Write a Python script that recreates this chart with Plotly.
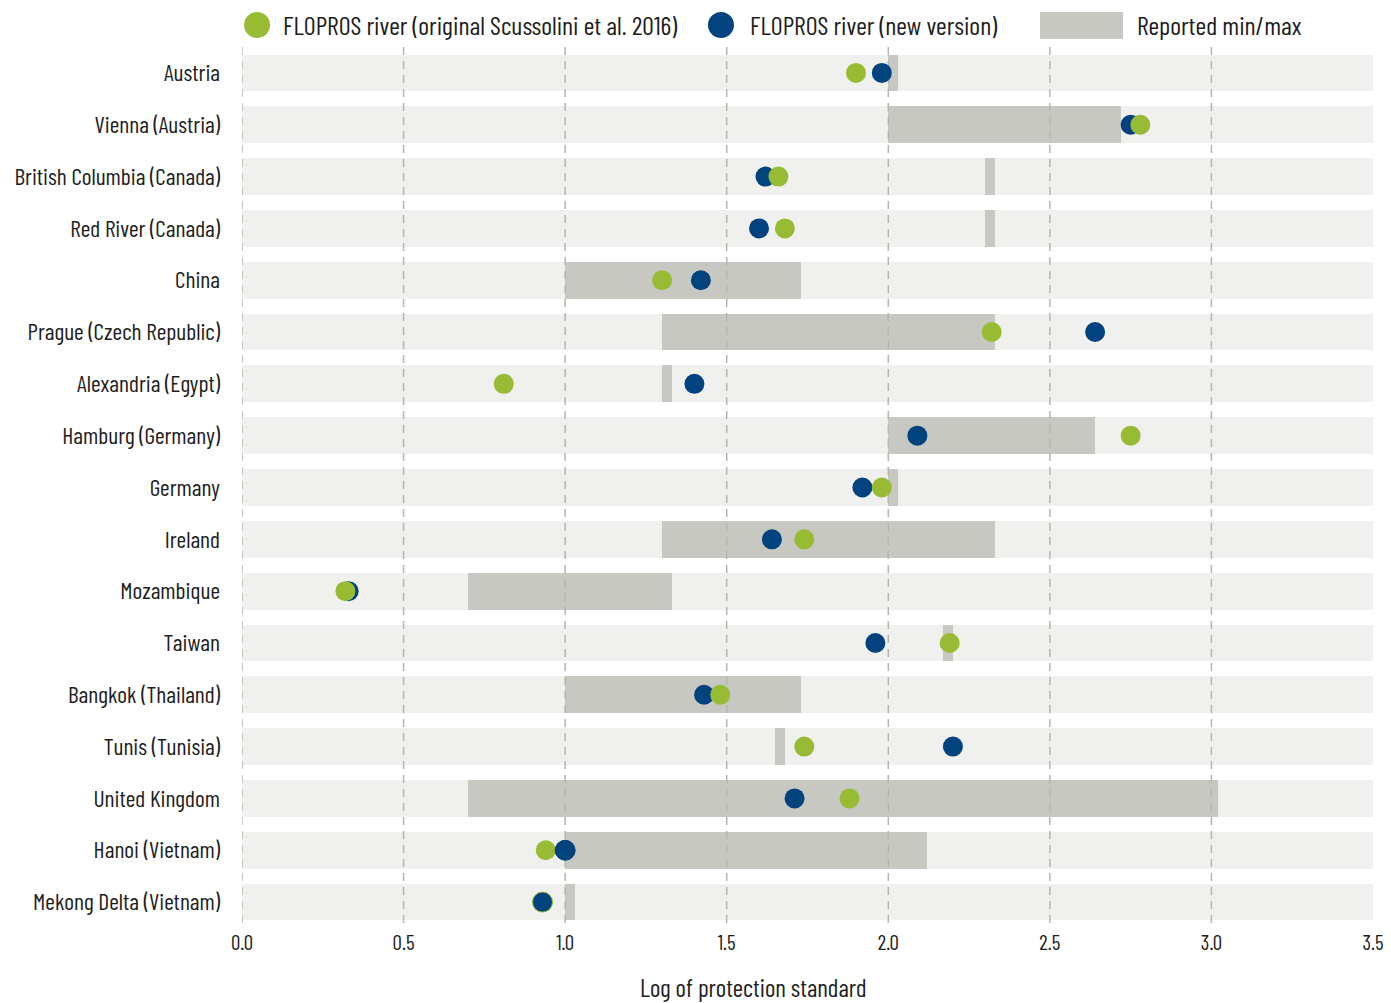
import plotly.graph_objects as go

# ---------------- data ----------------
categories = [
    "Austria", "Vienna (Austria)", "British Columbia (Canada)", "Red River (Canada)",
    "China", "Prague (Czech Republic)", "Alexandria (Egypt)", "Hamburg (Germany)",
    "Germany", "Ireland", "Mozambique", "Taiwan", "Bangkok (Thailand)",
    "Tunis (Tunisia)", "United Kingdom", "Hanoi (Vietnam)", "Mekong Delta (Vietnam)",
]
flopros_original = [1.90, 2.78, 1.66, 1.68, 1.30, 2.32, 0.81, 2.75, 1.98, 1.74,
                    0.32, 2.19, 1.48, 1.74, 1.88, 0.94, 0.93]
flopros_new = [1.98, 2.75, 1.62, 1.60, 1.42, 2.64, 1.40, 2.09, 1.92, 1.64,
               0.33, 1.96, 1.43, 2.20, 1.71, 1.00, 0.93]
reported_min = [2.00, 2.00, 2.30, 2.30, 1.00, 1.30, 1.30, 2.00, 2.00, 1.30,
                0.70, 2.17, 1.00, 1.65, 0.70, 1.00, 1.00]
reported_max = [2.03, 2.72, 2.33, 2.33, 1.73, 2.33, 1.33, 2.64, 2.03, 2.33,
                1.33, 2.20, 1.73, 1.68, 3.02, 2.12, 1.03]
blue_on_top = ["Hanoi (Vietnam)", "Mekong Delta (Vietnam)"]
x_ticks = [0.0, 0.5, 1.0, 1.5, 2.0, 2.5, 3.0, 3.5]
x_max = 3.5

# ---------------- style ----------------
GREEN = "#97bc34"
BLUE = "#00437e"
BAR_BG = "#f0f0ee"
BAR_RANGE = "#c7c8c1"
GRID = "#b5b5b0"
TEXT = "#1e1e1e"
FONT = "Barlow Condensed, Roboto Condensed, sans-serif"

ypos = list(range(len(categories)))
BAR_W = 0.71

fig = go.Figure()

# background bars (full range)
fig.add_trace(go.Bar(
    y=ypos, x=[x_max] * len(categories), base=0, orientation="h", width=BAR_W,
    marker=dict(color=BAR_BG, line=dict(width=0)), showlegend=False, hoverinfo="skip",
))
# reported min/max bars
fig.add_trace(go.Bar(
    y=ypos, x=[mx - mn for mn, mx in zip(reported_min, reported_max)], base=reported_min,
    orientation="h", width=BAR_W, name="Reported min/max",
    marker=dict(color=BAR_RANGE, line=dict(width=0)), showlegend=False,
))

# dashed gridlines drawn above bars but below markers
gx, gy = [], []
for t in x_ticks:
    if t >= x_max:
        continue
    gx += [t, t, None]
    gy += [-0.5, len(categories) - 0.5, None]
fig.add_trace(go.Scatter(
    x=gx, y=gy, mode="lines", line=dict(color=GRID, width=1.5, dash="8px,6px"),
    showlegend=False, hoverinfo="skip",
))

fig.add_trace(go.Scatter(
    x=flopros_new, y=ypos, mode="markers", name="FLOPROS river (new version)",
    marker=dict(color=BLUE, size=20, line=dict(width=0)), showlegend=False,
))
fig.add_trace(go.Scatter(
    x=flopros_original, y=ypos, mode="markers",
    name="FLOPROS river (original Scussolini et al. 2016)",
    marker=dict(color=GREEN, size=20, line=dict(width=0)), showlegend=False,
))
top_idx = [i for i, c in enumerate(categories) if c in blue_on_top]
fig.add_trace(go.Scatter(
    x=[flopros_new[i] for i in top_idx], y=top_idx, mode="markers",
    marker=dict(
        color=BLUE, size=20,
        line=dict(width=1, color=[GREEN if flopros_new[i] == flopros_original[i] else BLUE
                                  for i in top_idx]),
    ),
    showlegend=False,
))

fig.update_layout(
    width=1383, height=995,
    margin=dict(l=234, r=18, t=39, b=75),
    plot_bgcolor="white", paper_bgcolor="white",
    barmode="overlay", bargap=0,
    font=dict(family=FONT, size=23.5, color=TEXT),
    showlegend=False,
)
fig.update_xaxes(
    range=[0, x_max], tickvals=x_ticks, ticktext=[f"{t:.1f}" for t in x_ticks],
    showgrid=False, zeroline=False, showline=False, ticks="", automargin=False,
    tickfont=dict(size=21, color=TEXT),
)
fig.update_yaxes(
    range=[len(categories) - 0.5, -0.5], tickvals=ypos, ticktext=categories,
    showgrid=False, zeroline=False, showline=False, ticks="", automargin=False,
    ticklabelstandoff=21, tickfont=dict(size=23.5, color=TEXT),
)

# axis title
fig.add_annotation(
    text="Log of protection standard", xref="paper", yref="paper",
    x=0.452, y=-0.0675, xanchor="center", yanchor="middle", showarrow=False,
    font=dict(size=25, color=TEXT),
)

# custom legend
LEG_Y = 1.0250
LEG_SIZE = 26
fig.add_shape(type="circle", xref="paper", yref="paper", xsizemode="pixel", ysizemode="pixel",
              xanchor=0.0133, yanchor=LEG_Y, x0=-13, x1=13, y0=-13, y1=13,
              fillcolor=GREEN, line=dict(width=0))
fig.add_annotation(text="FLOPROS river (original Scussolini et al. 2016)", xref="paper", yref="paper",
                   x=0.0345, y=LEG_Y, xanchor="left", yanchor="middle", showarrow=False,
                   font=dict(size=LEG_SIZE, color=TEXT))
fig.add_shape(type="circle", xref="paper", yref="paper", xsizemode="pixel", ysizemode="pixel",
              xanchor=0.4235, yanchor=LEG_Y, x0=-13, x1=13, y0=-13, y1=13,
              fillcolor=BLUE, line=dict(width=0))
fig.add_annotation(text="FLOPROS river (new version)", xref="paper", yref="paper",
                   x=0.4474, y=LEG_Y, xanchor="left", yanchor="middle", showarrow=False,
                   font=dict(size=LEG_SIZE, color=TEXT))
fig.add_shape(type="rect", xref="paper", yref="paper",
              x0=0.7056, x1=0.7790, y0=1.0091, y1=1.0397,
              fillcolor=BAR_RANGE, line=dict(width=0))
fig.add_annotation(text="Reported min/max", xref="paper", yref="paper",
                   x=0.7895, y=LEG_Y, xanchor="left", yanchor="middle", showarrow=False,
                   font=dict(size=LEG_SIZE, color=TEXT))

fig.write_html("out.html")
